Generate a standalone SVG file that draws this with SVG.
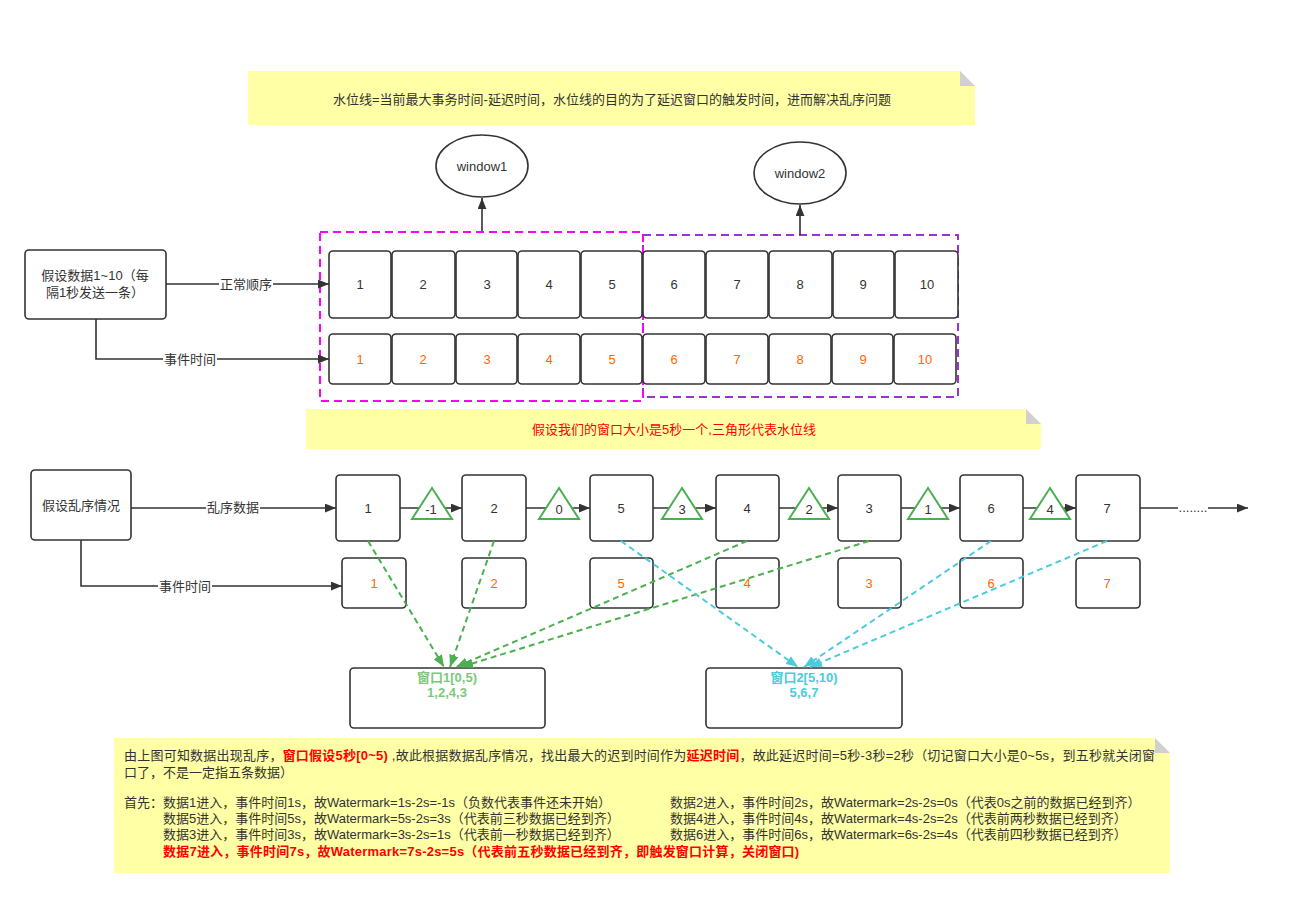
<svg xmlns="http://www.w3.org/2000/svg" width="1305" height="898" viewBox="0 0 1305 898">
<style>
text{font-family:"Liberation Sans","Noto Sans CJK SC",sans-serif;font-size:13px;fill:#333}
.c{text-anchor:middle}
.box{fill:#fff;stroke:#333;stroke-width:1.6}
.num{fill:#ff6600}
.note{fill:#ffffa6}
.fold{fill:#d0d0d0}
.ln{fill:none;stroke:#333;stroke-width:1.6}
.gd{fill:none;stroke:#4caf50;stroke-width:2;stroke-dasharray:6 4}
.cd{fill:none;stroke:#4ccbdd;stroke-width:2;stroke-dasharray:6 4}
.tri{fill:#fff;stroke:#4caf50;stroke-width:2}
.lbl{fill:#fff}
.red{fill:#ff0000}
.b{font-weight:bold}
.ls{letter-spacing:0.22px}
</style>
<defs>
<marker id="ah" viewBox="0 0 10 8" refX="10" refY="4" markerWidth="11" markerHeight="9" markerUnits="userSpaceOnUse" orient="auto"><path d="M0,0 L10,4 L0,8 z" fill="#333"/></marker>
<marker id="ag" viewBox="0 0 10 8" refX="10" refY="4" markerWidth="12" markerHeight="10" markerUnits="userSpaceOnUse" orient="auto"><path d="M0,0 L10,4 L0,8 z" fill="#4caf50"/></marker>
<marker id="ac" viewBox="0 0 10 8" refX="10" refY="4" markerWidth="12" markerHeight="10" markerUnits="userSpaceOnUse" orient="auto"><path d="M0,0 L10,4 L0,8 z" fill="#4ccbdd"/></marker>
</defs>
<rect width="1305" height="898" fill="#fff"/>

<g id="note-top">
<path class="note" d="M248,71 H960 L975,86 V125 H248 Z"/>
<path class="fold" d="M960,71 V86 H975 Z"/>
<text class="c" x="612" y="104">水位线=当前最大事务时间-延迟时间，水位线的目的为了延迟窗口的触发时间，进而解决乱序问题</text>
</g>

<g id="window1"><ellipse cx="482" cy="166" rx="46" ry="31" fill="#fff" stroke="#333" stroke-width="1.6"/><text class="c" x="482" y="171">window1</text></g>
<g id="window2"><ellipse cx="800" cy="173" rx="46" ry="31" fill="#fff" stroke="#333" stroke-width="1.6"/><text class="c" x="800" y="178">window2</text></g>

<g id="group-windows">
<rect x="643" y="235" width="315" height="162" fill="none" stroke="#9933cc" stroke-width="2" stroke-dasharray="8 5"/>
<rect x="320" y="232" width="323" height="169" fill="none" stroke="#ff00ff" stroke-width="2" stroke-dasharray="8 5"/>
</g>

<g id="src1"><rect class="box" x="25" y="250" width="141" height="69" rx="4"/><text class="c" x="95" y="280">假设数据1~10（每</text><text class="c" x="95" y="297">隔1秒发送一条）</text></g>

<g id="row-normal">
<rect class="box" x="329" y="251" width="62" height="67" rx="4"/><text class="c" x="360" y="289">1</text>
<rect class="box" x="392" y="251" width="63" height="67" rx="4"/><text class="c" x="423" y="289">2</text>
<rect class="box" x="456" y="251" width="61" height="67" rx="4"/><text class="c" x="487" y="289">3</text>
<rect class="box" x="518" y="251" width="62" height="67" rx="4"/><text class="c" x="549" y="289">4</text>
<rect class="box" x="581" y="251" width="61" height="67" rx="4"/><text class="c" x="612" y="289">5</text>
<rect class="box" x="643" y="251" width="62" height="67" rx="4"/><text class="c" x="674" y="289">6</text>
<rect class="box" x="706" y="251" width="62" height="67" rx="4"/><text class="c" x="737" y="289">7</text>
<rect class="box" x="769" y="251" width="63" height="67" rx="4"/><text class="c" x="800" y="289">8</text>
<rect class="box" x="833" y="251" width="61" height="67" rx="4"/><text class="c" x="863" y="289">9</text>
<rect class="box" x="895" y="251" width="63" height="67" rx="4"/><text class="c" x="927" y="289">10</text>
</g>
<g id="row-event">
<rect class="box" x="329" y="334" width="62" height="50" rx="4"/><text class="c num" x="360" y="364">1</text>
<rect class="box" x="392" y="334" width="63" height="50" rx="4"/><text class="c num" x="423" y="364">2</text>
<rect class="box" x="456" y="334" width="61" height="50" rx="4"/><text class="c num" x="487" y="364">3</text>
<rect class="box" x="518" y="334" width="62" height="50" rx="4"/><text class="c num" x="549" y="364">4</text>
<rect class="box" x="581" y="334" width="61" height="50" rx="4"/><text class="c num" x="612" y="364">5</text>
<rect class="box" x="643" y="334" width="62" height="50" rx="4"/><text class="c num" x="674" y="364">6</text>
<rect class="box" x="706" y="334" width="62" height="50" rx="4"/><text class="c num" x="737" y="364">7</text>
<rect class="box" x="769" y="334" width="62" height="50" rx="4"/><text class="c num" x="800" y="364">8</text>
<rect class="box" x="832" y="334" width="61" height="50" rx="4"/><text class="c num" x="863" y="364">9</text>
<rect class="box" x="894" y="334" width="62" height="50" rx="4"/><text class="c num" x="925" y="364">10</text>
</g>

<g id="note-mid">
<path class="note" d="M306,409 H1026 L1041,424 V449 H306 Z"/>
<path class="fold" d="M1026,409 V424 H1041 Z"/>
<text class="c red" x="674" y="434">假设我们的窗口大小是5秒一个,三角形代表水位线</text>
</g>

<g id="src2"><rect class="box" x="31" y="470" width="100" height="70" rx="4"/><text class="c" x="81" y="510">假设乱序情况</text></g>

<g id="row-ooo">
<rect class="box" x="336" y="475" width="64" height="66" rx="4"/><text class="c" x="368" y="513">1</text>
<rect class="box" x="462" y="475" width="64" height="66" rx="4"/><text class="c" x="494" y="513">2</text>
<rect class="box" x="590" y="475" width="63" height="66" rx="4"/><text class="c" x="621" y="513">5</text>
<rect class="box" x="716" y="475" width="63" height="66" rx="4"/><text class="c" x="747" y="513">4</text>
<rect class="box" x="838" y="475" width="63" height="66" rx="4"/><text class="c" x="869" y="513">3</text>
<rect class="box" x="960" y="475" width="63" height="66" rx="4"/><text class="c" x="991" y="513">6</text>
<rect class="box" x="1076" y="475" width="64" height="66" rx="4"/><text class="c" x="1107" y="513">7</text>
</g>
<g id="row-ooo-event">
<rect class="box" x="342" y="558" width="64" height="50" rx="4"/><text class="c num" x="374" y="588">1</text>
<rect class="box" x="462" y="558" width="64" height="50" rx="4"/><text class="c num" x="494" y="588">2</text>
<rect class="box" x="590" y="558" width="63" height="50" rx="4"/><text class="c num" x="621" y="588">5</text>
<rect class="box" x="716" y="558" width="63" height="50" rx="4"/><text class="c num" x="747" y="588">4</text>
<rect class="box" x="838" y="558" width="63" height="50" rx="4"/><text class="c num" x="869" y="588">3</text>
<rect class="box" x="960" y="558" width="63" height="50" rx="4"/><text class="c num" x="991" y="588">6</text>
<rect class="box" x="1076" y="558" width="64" height="50" rx="4"/><text class="c num" x="1107" y="588">7</text>
</g>

<g id="win-box1"><rect class="box" x="350" y="668" width="195" height="60" rx="4"/><text class="c b" x="447" y="682" style="fill:#7cc97c">窗口1[0,5)</text><text class="c b" x="447" y="697" style="fill:#7cc97c">1,2,4,3</text></g>
<g id="win-box2"><rect class="box" x="706" y="668" width="196" height="60" rx="4"/><text class="c b" x="804" y="682" style="fill:#4ccbdd">窗口2[5,10)</text><text class="c b" x="804" y="697" style="fill:#4ccbdd">5,6,7</text></g>

<g id="connectors">
<path class="ln" d="M482,231 V198" marker-end="url(#ah)"/>
<path class="ln" d="M800,235 V205" marker-end="url(#ah)"/>
<path class="ln" d="M166,284 H329" marker-end="url(#ah)"/>
<rect class="lbl" x="219" y="276" width="54" height="16"/><text class="c" x="246" y="289">正常顺序</text>
<path class="ln" d="M96,319 V359 H329" marker-end="url(#ah)"/>
<rect class="lbl" x="163" y="351" width="54" height="16"/><text class="c" x="190" y="364">事件时间</text>

<path class="ln" d="M131,508 H336" marker-end="url(#ah)"/>
<rect class="lbl" x="206" y="500" width="54" height="16"/><text class="c" x="233" y="512">乱序数据</text>
<path class="ln" d="M81,540 V586 H342" marker-end="url(#ah)"/>
<rect class="lbl" x="158" y="578" width="54" height="16"/><text class="c" x="185" y="591">事件时间</text>

<path class="ln" d="M400,508 H462" marker-end="url(#ah)"/>
<path class="ln" d="M526,508 H590" marker-end="url(#ah)"/>
<path class="ln" d="M653,508 H716" marker-end="url(#ah)"/>
<path class="ln" d="M779,508 H838" marker-end="url(#ah)"/>
<path class="ln" d="M901,508 H960" marker-end="url(#ah)"/>
<path class="ln" d="M1023,508 H1076" marker-end="url(#ah)"/>
<path class="ln" d="M1140,508 H1248" marker-end="url(#ah)"/>
<rect class="lbl" x="1178" y="500" width="30" height="16"/><text class="c" x="1193" y="512">........</text>

<path class="gd" d="M368,541 L444,667" marker-end="url(#ag)"/>
<path class="gd" d="M494,541 L450,667" marker-end="url(#ag)"/>
<path class="gd" d="M747,541 L456,667" marker-end="url(#ag)"/>
<path class="gd" d="M869,541 L461,667" marker-end="url(#ag)"/>
<path class="cd" d="M621,541 L798,667" marker-end="url(#ac)"/>
<path class="cd" d="M991,541 L804,667" marker-end="url(#ac)"/>
<path class="cd" d="M1107,541 L810,667" marker-end="url(#ac)"/>
</g>

<g id="watermarks">
<path class="tri" d="M432,488 L452,519 L412,519 Z"/><text class="c" x="431" y="514">-1</text>
<path class="tri" d="M559,488 L579,519 L539,519 Z"/><text class="c" x="559" y="514">0</text>
<path class="tri" d="M682,488 L702,519 L662,519 Z"/><text class="c" x="682" y="514">3</text>
<path class="tri" d="M809,488 L829,519 L789,519 Z"/><text class="c" x="809" y="514">2</text>
<path class="tri" d="M928,488 L948,519 L908,519 Z"/><text class="c" x="928" y="514">1</text>
<path class="tri" d="M1050,488 L1070,519 L1030,519 Z"/><text class="c" x="1050" y="514">4</text>
</g>

<g id="note-bottom">
<path class="note" d="M114,738 H1155 L1170,753 V873 H114 Z"/>
<path class="fold" d="M1155,738 V753 H1170 Z"/>
<text class="ls" x="124" y="760">由上图可知数据出现乱序，<tspan class="red b">窗口假设5秒[0~5)</tspan> ,故此根据数据乱序情况，找出最大的迟到时间作为<tspan class="red b">延迟时间</tspan>，故此延迟时间=5秒-3秒=2秒（切记窗口大小是0~5s，到五秒就关闭窗</text>
<text x="124" y="777">口了，不是一定指五条数据）</text>
<text x="124" y="807">首先：数据1进入，事件时间1s，故Watermark=1s-2s=-1s（负数代表事件还未开始）</text>
<text x="670" y="807">数据2进入，事件时间2s，故Watermark=2s-2s=0s（代表0s之前的数据已经到齐）</text>
<text x="163" y="823">数据5进入，事件时间5s，故Watermark=5s-2s=3s（代表前三秒数据已经到齐）</text>
<text x="670" y="823">数据4进入，事件时间4s，故Watermark=4s-2s=2s（代表前两秒数据已经到齐）</text>
<text x="163" y="839">数据3进入，事件时间3s，故Watermark=3s-2s=1s（代表前一秒数据已经到齐）</text>
<text x="670" y="839">数据6进入，事件时间6s，故Watermark=6s-2s=4s（代表前四秒数据已经到齐）</text>
<text class="red b ls" x="163" y="856">数据7进入，事件时间7s，故Watermark=7s-2s=5s（代表前五秒数据已经到齐，即触发窗口计算，关闭窗口)</text>
</g>
</svg>
